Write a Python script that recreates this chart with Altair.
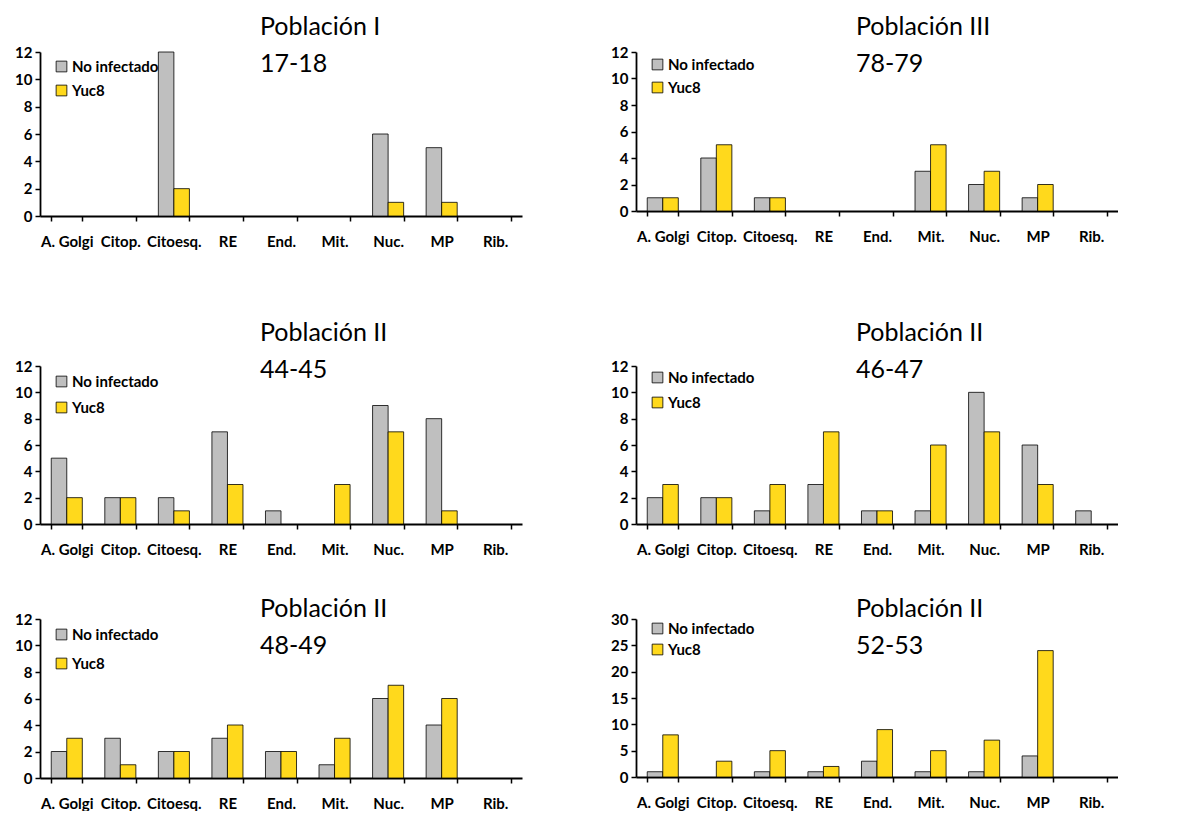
import altair as alt
import pandas as pd

categories = ["A. Golgi", "Citop.", "Citoesq.", "RE", "End.", "Mit.", "Nuc.", "MP", "Rib."]
series = ["No infectado", "Yuc8"]
colors = ["#BFBFBF", "#FFD91C"]

titles = [
    ["Población I", "17-18"],
    ["Población III", "78-79"],
    ["Población II", "44-45"],
    ["Población II", "46-47"],
    ["Población II", "48-49"],
    ["Población II", "52-53"],
]

no_inf = [
    [0, 0, 12, 0, 0, 0, 6, 5, 0],
    [1, 4, 1, 0, 0, 3, 2, 1, 0],
    [5, 2, 2, 7, 1, 0, 9, 8, 0],
    [2, 2, 1, 3, 1, 1, 10, 6, 1],
    [2, 3, 2, 3, 2, 1, 6, 4, 0],
    [1, 0, 1, 1, 3, 1, 1, 4, 0],
]
yuc8 = [
    [0, 0, 2, 0, 0, 0, 1, 1, 0],
    [1, 5, 1, 0, 0, 5, 3, 2, 0],
    [2, 2, 1, 3, 0, 3, 7, 1, 0],
    [3, 2, 3, 7, 1, 6, 7, 3, 0],
    [3, 1, 2, 4, 2, 3, 7, 6, 0],
    [8, 3, 5, 2, 9, 5, 7, 24, 0],
]
y_max = [12, 12, 12, 12, 12, 30]
y_step = [2, 2, 2, 2, 2, 5]

# layout (not data)
heights = [164, 159, 158, 158, 159, 158]
title_offset = [-32, -32, -24, -24, -47, -47]
legend_y = [7, 5, 8, 4, 8, 2]
legend_pad = [8, 7, 10, 9, 13, 5]

FONT = "Lato"


def panel(i):
    rows = []
    for c, a, b in zip(categories, no_inf[i], yuc8[i]):
        rows.append({"cat": c, "serie": series[0], "v": a})
        rows.append({"cat": c, "serie": series[1], "v": b})
    df = pd.DataFrame(rows)
    ticks = list(range(0, y_max[i] + 1, y_step[i]))
    return (
        alt.Chart(df)
        .transform_filter("datum.v > 0")
        .mark_bar(stroke="black", strokeWidth=0.8)
        .encode(
            x=alt.X(
                "cat:N",
                sort=categories,
                scale=alt.Scale(domain=categories, paddingInner=0.42, paddingOuter=0.21),
                axis=alt.Axis(
                    title=None, labelAngle=0, tickBand="extent", ticks=True,
                    tickSize=5, tickColor="black", tickWidth=1.5,
                    domainColor="black", domainWidth=1.8,
                    labelFont=FONT, labelFontWeight="bold", labelFontSize=15,
                    labelColor="black", labelPadding=13, grid=False,
                ),
            ),
            xOffset=alt.XOffset("serie:N", scale=alt.Scale(domain=series, paddingInner=0, paddingOuter=0)),
            y=alt.Y(
                "v:Q",
                scale=alt.Scale(domain=[0, y_max[i]], nice=False),
                axis=alt.Axis(
                    title=None, values=ticks, grid=False, tickSize=5,
                    tickColor="black", tickWidth=1.5, domainColor="black",
                    domainWidth=1.8, labelFont=FONT, labelFontWeight="bold",
                    labelFontSize=15, labelColor="black", labelPadding=3,
                    minExtent=32, maxExtent=32,
                ),
            ),
            color=alt.Color(
                "serie:N",
                scale=alt.Scale(domain=series, range=colors),
                legend=alt.Legend(
                    title=None, orient="none", legendX=14, legendY=legend_y[i],
                    symbolType="square", symbolSize=115, symbolStrokeColor="black",
                    symbolStrokeWidth=0.8, labelFont=FONT, labelFontWeight="bold",
                    labelFontSize=15, labelColor="black", rowPadding=legend_pad[i],
                    labelOffset=3,
                ),
            ),
        )
        .properties(
            width=482,
            height=heights[i],
            title=alt.TitleParams(
                text=titles[i], anchor="start", frame="group", dx=220,
                offset=title_offset[i], font=FONT, fontSize=25,
                fontWeight="normal", color="black", lineHeight=37,
            ),
        )
    )


row1 = alt.hconcat(panel(0), panel(1), spacing=82).resolve_scale(color="independent")
row2 = alt.hconcat(panel(2), panel(3), spacing=82).resolve_scale(color="independent")
row3 = alt.hconcat(panel(4), panel(5), spacing=82).resolve_scale(color="independent")

top = alt.vconcat(row1, row2, spacing=72).resolve_scale(color="independent")

chart = (
    alt.vconcat(top, row3, spacing=40)
    .resolve_scale(color="independent")
    .properties(padding={"left": 0, "top": 7, "right": 0, "bottom": 0})
    .configure_view(stroke=None)
)

chart.save("out.html", embed_options={"renderer": "svg", "actions": False})
